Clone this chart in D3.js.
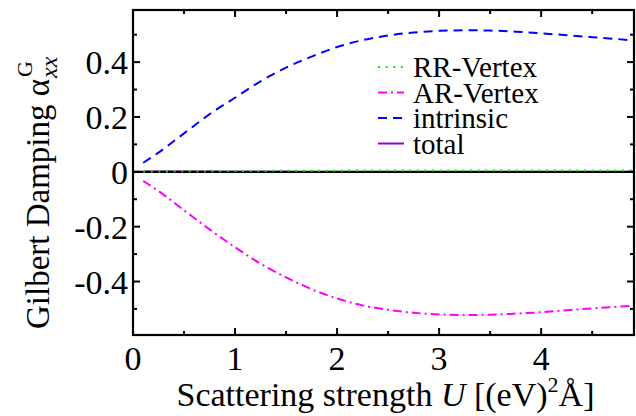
<!DOCTYPE html>
<html><head><meta charset="utf-8">
<script src="https://cdn.jsdelivr.net/npm/d3@7"></script>
<style>
html,body{margin:0;padding:0;background:#fff;}
</style></head>
<body><svg id="c" width="636" height="416" font-family="Liberation Serif, Times New Roman, serif"></svg>
<script>
// ---- data ----
const U = [0.1,0.25,0.5,0.75,1.0,1.25,1.5,1.75,2.0,2.25,2.5,2.75,3.0,3.25,3.5,3.75,4.0,4.25,4.5,4.75,4.9];
const intrinsic = [0.033,0.07,0.14,0.21,0.27,0.33,0.38,0.42,0.455,0.48,0.497,0.508,0.514,0.516,0.515,0.511,0.505,0.498,0.491,0.484,0.479];
const arVertex = [-0.033,-0.07,-0.14,-0.21,-0.275,-0.335,-0.385,-0.428,-0.462,-0.487,-0.503,-0.514,-0.52,-0.522,-0.521,-0.517,-0.512,-0.505,-0.498,-0.492,-0.488];
const rrVertex = [0.001,0.001,0.002,0.002,0.003,0.003,0.004,0.004,0.004,0.005,0.005,0.005,0.005,0.005,0.005,0.005,0.005,0.005,0.005,0.005,0.005];
const total = [0.001,0.001,0.001,0.001,0.0,0.0,0.0,-0.001,-0.001,-0.001,-0.001,-0.001,-0.001,-0.001,-0.001,-0.001,-0.001,-0.001,-0.001,-0.001,-0.001];
const xMajorTicks = [0,1,2,3,4];
const yMajorTicks = [-0.4,-0.2,0,0.2,0.4];
const yTickLabels = ["-0.4","-0.2","0","0.2","0.4"];
const legendLabels = ["RR-Vertex","AR-Vertex","intrinsic","total"];

// ---- layout ----
const FONT = "Liberation Serif";
const svg = d3.select("#c");
const L = 133, R = 634, T = 10, B = 335;
const x = d3.scaleLinear().domain([0,4.91]).range([L,R]);
const y = d3.scaleLinear().domain([-0.595,0.59]).range([B,T]);
const FS = 34;

const series = [
  {name:legendLabels[0], vals:rrVertex, color:"#00ee00", dash:"2,5.6", w:2},
  {name:legendLabels[1], vals:arVertex, color:"#ff00ff", dash:"9,4,2,4", w:2},
  {name:legendLabels[2], vals:intrinsic, color:"#0000ff", dash:"9,6", w:2},
  {name:legendLabels[3], vals:total, color:"#9400d3", dash:null, w:2}
];

const line = d3.line().x((d,i)=>x(U[i])).y(d=>y(d)).curve(d3.curveMonotoneX);
svg.append("path").attr("d", line(total)).attr("fill","none")
  .attr("stroke", series[3].color).attr("stroke-width", 2);
svg.append("line").attr("x1",L).attr("x2",R).attr("y1",y(0)).attr("y2",y(0))
  .attr("stroke","#000").attr("stroke-width",2.2);
[0,2,1].forEach(k=>{
  const s = series[k];
  svg.append("path").attr("d", line(s.vals)).attr("fill","none")
    .attr("stroke", s.color).attr("stroke-width", s.w)
    .attr("stroke-dasharray", s.dash);
});

// ---- axes ----
const g = svg.append("g");
const xMinor = d3.range(0,5,0.5).filter(v=>v<=4.91);
const yMinor = d3.range(-5,6).map(v=>v/10);
function vtick(v, len){
  g.append("line").attr("x1",x(v)).attr("x2",x(v)).attr("y1",B).attr("y2",B-len).attr("stroke","#000").attr("stroke-width",2);
  g.append("line").attr("x1",x(v)).attr("x2",x(v)).attr("y1",T).attr("y2",T+len).attr("stroke","#000").attr("stroke-width",2);
}
function htick(v, len){
  g.append("line").attr("x1",L).attr("x2",L+len).attr("y1",y(v)).attr("y2",y(v)).attr("stroke","#000").attr("stroke-width",2);
  g.append("line").attr("x1",R).attr("x2",R-len).attr("y1",y(v)).attr("y2",y(v)).attr("stroke","#000").attr("stroke-width",2);
}
xMinor.forEach(v=>vtick(v, Number.isInteger(v)?7:4));
yMinor.forEach(v=>htick(v, (Math.round(v*10)%2===0)?7:4));
g.append("rect").attr("x",L).attr("y",T).attr("width",R-L).attr("height",B-T)
  .attr("fill","none").attr("stroke","#000").attr("stroke-width",2.2);

function txt(sel){ return sel.append("text").attr("font-family",FONT).attr("fill","#000"); }

xMajorTicks.forEach(v=>{
  txt(svg).attr("x",x(v)).attr("y",B+35).attr("text-anchor","middle")
    .attr("font-size",FS).text(v);
});
yMajorTicks.forEach((v,i)=>{
  txt(svg).attr("x",L-5).attr("y",y(v)+12).attr("text-anchor","end")
    .attr("font-size",FS).text(yTickLabels[i]);
});

// x label
const xl = txt(svg).attr("x",(L+R)/2+2).attr("y",406).attr("text-anchor","middle").attr("font-size",FS);
xl.append("tspan").text("Scattering strength ");
xl.append("tspan").attr("font-style","italic").text("U");
xl.append("tspan").text(" [(eV)");
xl.append("tspan").attr("font-size",22).attr("dy",-14).text("2");
xl.append("tspan").attr("dy",14).text("Å]");

// y label
const yg = svg.append("g").attr("transform","translate(49,329) rotate(-90)");
const yt = txt(yg).attr("x",0).attr("y",0).attr("font-size",33).text("Gilbert Damping α");
const len = yt.node().getComputedTextLength();
txt(yg).attr("x",len+2).attr("y",-17).attr("font-size",22).text("G");
txt(yg).attr("x",len+1).attr("y",8).attr("font-size",24).attr("font-style","italic").text("xx");

// legend
series.forEach((s,i)=>{
  const yy = 67 + i*25.5;
  svg.append("line").attr("x1",378).attr("x2",404).attr("y1",yy).attr("y2",yy)
    .attr("stroke",s.color).attr("stroke-width",2).attr("stroke-dasharray",s.dash);
  txt(svg).attr("x",413).attr("y",yy+10).attr("font-size",29).text(s.name);
});
</script></body></html>
